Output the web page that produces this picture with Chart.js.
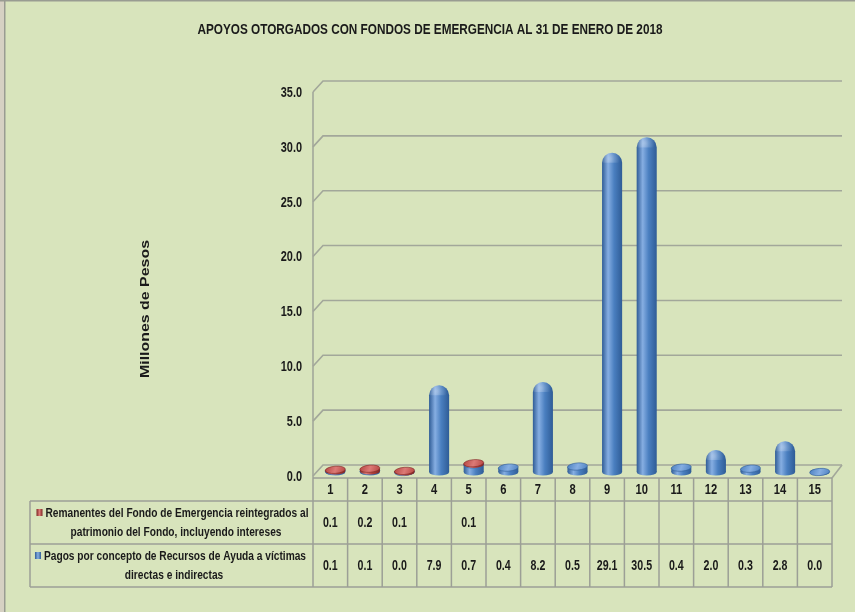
<!DOCTYPE html>
<html><head><meta charset="utf-8">
<script src="https://cdn.jsdelivr.net/npm/chart.js@4.4.1/dist/chart.umd.min.js"></script>
<style>html,body{margin:0;padding:0;background:#d8e4bc;}canvas{display:block}</style>
</head><body>
<div style="width:855px;height:612px;position:relative"><canvas id="c" width="855" height="612"></canvas></div>
<script>
const chartTitle = 'APOYOS OTORGADOS CON FONDOS DE EMERGENCIA AL 31 DE ENERO DE 2018';
const yAxisTitle = 'Millones de Pesos';
const categories = ['1','2','3','4','5','6','7','8','9','10','11','12','13','14','15'];
const remanentes = [0.1, 0.2, 0.1, null, 0.1, null, null, null, null, null, null, null, null, null, null];
const pagos = [0.1, 0.1, 0.0, 7.9, 0.7, 0.4, 8.2, 0.5, 29.1, 30.5, 0.4, 2.0, 0.3, 2.8, 0.0];
const yTicks = [0, 5, 10, 15, 20, 25, 30, 35];
const remanentesName = ['Remanentes del Fondo de Emergencia reintegrados al', 'patrimonio del Fondo, incluyendo intereses'];
const pagosName = ['Pagos por concepto de Recursos de Ayuda a víctimas', 'directas e indirectas'];

const FAM = '"Liberation Sans",Arial,sans-serif';
const BLUE = {dark:'#2f5c96', mid:'#4a7fc0', light:'#86aee2'};
const RED = {dark:'#7e2624', mid:'#b5433f', light:'#dc7a76'};
const DX = 10, DY = -11;
const SX = 5, SY = -4;

function sText(ctx, text, x, y, align, size, weight, sx) {
  ctx.save();
  ctx.font = weight + ' ' + size + 'px ' + FAM;
  ctx.textAlign = align; ctx.textBaseline = 'middle';
  ctx.translate(x, y); ctx.scale(sx, 1);
  ctx.fillText(text, 0, 0);
  ctx.restore();
}
function fitSx(ctx, text, size, weight, target) {
  ctx.font = weight + ' ' + size + 'px ' + FAM;
  return target / ctx.measureText(text).width;
}

function cylinder(ctx, cx, top, base, w, col) {
  const r = w / 2, ry = 3.6;
  const g = ctx.createLinearGradient(cx - r, 0, cx + r, 0);
  g.addColorStop(0, col.dark); g.addColorStop(0.3, col.light); g.addColorStop(0.6, col.mid); g.addColorStop(1, col.dark);
  const h = base - top;
  ctx.fillStyle = g;
  ctx.beginPath(); ctx.ellipse(cx, base, r, ry, 0, 0, Math.PI * 2); ctx.fill();
  if (h > r + 2) {
    ctx.beginPath();
    ctx.moveTo(cx - r, base);
    ctx.lineTo(cx - r, top + r);
    ctx.ellipse(cx, top + r, r, r, 0, Math.PI, 0);
    ctx.lineTo(cx + r, base);
    ctx.closePath(); ctx.fill();
    const rg = ctx.createRadialGradient(cx - 2, top + 6, 1, cx - 2, top + 6, r);
    rg.addColorStop(0, 'rgba(255,255,255,0.3)'); rg.addColorStop(1, 'rgba(255,255,255,0)');
    ctx.fillStyle = rg;
    ctx.beginPath(); ctx.ellipse(cx, top + r, r, r, 0, Math.PI, 0); ctx.fill();
  } else {
    if (h > 0) { ctx.fillRect(cx - r, top, w, h); }
    const tg = ctx.createLinearGradient(cx - r, top - ry, cx + r, top + ry);
    tg.addColorStop(0, col.mid); tg.addColorStop(0.5, col.light); tg.addColorStop(1, col.mid);
    ctx.fillStyle = tg;
    ctx.beginPath(); ctx.ellipse(cx, top, r, ry, -0.08, 0, Math.PI * 2); ctx.fill();
    ctx.strokeStyle = col.dark; ctx.lineWidth = 0.6; ctx.stroke();
  }
}

const scene = {
  id: 'scene',
  beforeDraw(chart) {
    const ctx = chart.ctx, ys = chart.scales.y;
    const L = chart.chartArea.left, R = chart.chartArea.right;
    ctx.save();
    ctx.fillStyle = '#d8e4bc'; ctx.fillRect(0, 0, 855, 612);
    ctx.fillStyle = '#d6d1c3'; ctx.fillRect(0, 0, 4, 612);
    ctx.fillStyle = '#999c92'; ctx.fillRect(4, 0, 1.5, 612); ctx.fillRect(0, 0, 855, 1.5);
    ctx.fillStyle = '#1a1a1a';
    sText(ctx, chartTitle, 430, 30, 'center', 15.5, 'bold', fitSx(ctx, chartTitle, 15.5, 'bold', 465));
    ctx.strokeStyle = '#a2a79a'; ctx.lineWidth = 1.6;
    yTicks.forEach(v => {
      const y = ys.getPixelForValue(v);
      ctx.beginPath(); ctx.moveTo(L, y); ctx.lineTo(L + DX, y + DY); ctx.lineTo(R + DX, y + DY); ctx.stroke();
    });
    const y0 = ys.getPixelForValue(0);
    ctx.beginPath(); ctx.moveTo(R, y0 + 2); ctx.lineTo(R + DX, y0 + DY); ctx.stroke();
    ctx.beginPath(); ctx.moveTo(L, ys.getPixelForValue(35)); ctx.lineTo(L, y0 + 2); ctx.stroke();
    ctx.fillStyle = '#1a1a1a';
    yTicks.forEach(v => sText(ctx, v.toFixed(1), L - 11, ys.getPixelForValue(v) + 1, 'right', 14, 'bold', 0.78));
    ctx.save(); ctx.translate(145, 309); ctx.rotate(-Math.PI / 2);
    sText(ctx, yAxisTitle, 0, 0, 'center', 13.5, 'bold', fitSx(ctx, yAxisTitle, 13.5, 'bold', 138));
    ctx.restore();
    ctx.restore();
  },
  afterDatasetsDraw(chart) {
    const ctx = chart.ctx;
    const mb = chart.getDatasetMeta(0), mr = chart.getDatasetMeta(1);
    ctx.save(); ctx.translate(SX, SY);
    for (let i = 0; i < categories.length; i++) {
      const b = mb.data[i], r = mr.data[i];
      if (pagos[i] !== null && b) cylinder(ctx, b.x, b.y, b.base, b.width, BLUE);
      if (remanentes[i] !== null && r) cylinder(ctx, r.x, r.y, r.base, r.width, RED);
    }
    ctx.restore();
  },
  afterDraw(chart) {
    const ctx = chart.ctx, xs = chart.scales.x, ys = chart.scales.y;
    const L = chart.chartArea.left, R = chart.chartArea.right;
    const top = ys.getPixelForValue(0) + 2, r1 = top + 23, r2 = r1 + 43, r3 = r2 + 43, boxL = 30;
    const band = (R - L) / categories.length;
    ctx.save();
    ctx.strokeStyle = '#9c9f96'; ctx.lineWidth = 1.5;
    ctx.beginPath();
    ctx.moveTo(L, top); ctx.lineTo(R, top);
    ctx.moveTo(boxL, r1); ctx.lineTo(R, r1);
    ctx.moveTo(boxL, r2); ctx.lineTo(R, r2);
    ctx.moveTo(boxL, r3); ctx.lineTo(R, r3);
    ctx.moveTo(boxL, r1); ctx.lineTo(boxL, r3);
    for (let i = 0; i <= categories.length; i++) {
      const x = L + i * band; ctx.moveTo(x, top); ctx.lineTo(x, r3);
    }
    ctx.stroke();
    ctx.fillStyle = '#1a1a1a';
    categories.forEach((c, i) => {
      const x = xs.getPixelForValue(i);
      sText(ctx, c, x, (top + r1) / 2 + 1, 'center', 14, 'bold', 0.8);
      if (remanentes[i] !== null) sText(ctx, remanentes[i].toFixed(1), x, (r1 + r2) / 2 + 1, 'center', 14, 'bold', 0.76);
      if (pagos[i] !== null) sText(ctx, pagos[i].toFixed(1), x, (r2 + r3) / 2 + 1, 'center', 14, 'bold', 0.76);
    });
    const sx = fitSx(ctx, remanentesName[0], 13.5, 'bold', 263);
    const drawLegend = (lines, col, yTop, cx) => {
      ctx.font = 'bold 13.5px ' + FAM;
      const w0 = ctx.measureText(lines[0]).width * sx;
      ctx.fillStyle = '#1a1a1a';
      sText(ctx, lines[0], cx, yTop + 12, 'center', 13.5, 'bold', sx);
      sText(ctx, lines[1], cx - 1, yTop + 31, 'center', 13.5, 'bold', sx);
      const mx = cx - w0 / 2 - 9;
      const g = ctx.createLinearGradient(mx, 0, mx + 6, 0);
      g.addColorStop(0, col.dark); g.addColorStop(0.5, col.light); g.addColorStop(1, col.dark);
      ctx.fillStyle = g; ctx.fillRect(mx, yTop + 8, 6, 7);
    };
    drawLegend(remanentesName, RED, r1, 177);
    drawLegend(pagosName, BLUE, r2, 175);
    ctx.restore();
  }
};

new Chart(document.getElementById('c'), {
  type: 'bar',
  data: {
    labels: categories,
    datasets: [
      { label: pagosName.join(' '), data: pagos, backgroundColor: 'rgba(0,0,0,0)', borderWidth: 0 },
      { label: remanentesName.join(' '), data: remanentes, backgroundColor: 'rgba(0,0,0,0)', borderWidth: 0 }
    ]
  },
  options: {
    responsive: false, animation: false, devicePixelRatio: 1,
    layout: { padding: { left: 313, right: 23, top: 92, bottom: 612 - 476 } },
    datasets: { bar: { categoryPercentage: 1, barPercentage: 0.58 } },
    scales: {
      x: { stacked: true, display: false, offset: true },
      y: { stacked: true, display: false, min: 0, max: 35 }
    },
    plugins: { legend: { display: false }, tooltip: { enabled: false }, title: { display: false } }
  },
  plugins: [scene]
});
</script>
</body></html>
